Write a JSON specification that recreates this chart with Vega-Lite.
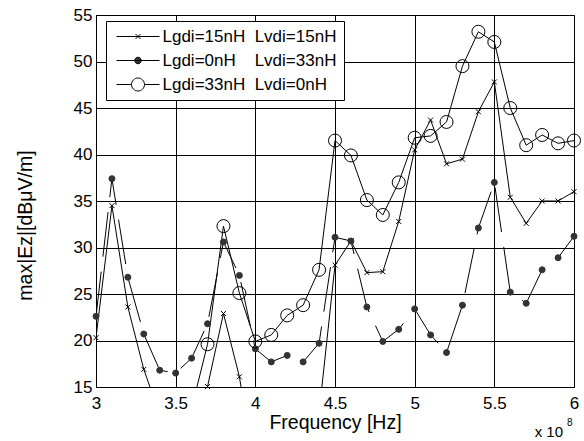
{
 "$schema": "https://vega.github.io/schema/vega-lite/v6.json",
 "width": 478, "height": 372,
 "autosize": {"type": "none"},
 "padding": {"left": 96, "top": 15, "right": 10, "bottom": 54},
 "background": "white",
 "config": {
  "font": "Liberation Sans",
  "view": {"stroke": "black", "strokeWidth": 1},
  "axis": {"labelFont": "Liberation Sans", "labelFontSize": 17, "labelColor": "black", "titleFont": "Liberation Sans", "titleFontSize": 19.5, "titleFontWeight": "normal", "titleColor": "black", "gridColor": "black", "gridOpacity": 1, "gridWidth": 1, "domain": false, "ticks": false, "labelOverlap": false},
  "legend": {"orient": "none", "legendX": 10, "legendY": 6, "strokeColor": "black", "fillColor": "white", "padding": 7, "cornerRadius": 0,
        "labelFont": "Liberation Sans", "labelFontSize": 17, "labelColor": "black", "labelOffset": 16, "symbolOffset": 16.5, "labelLimit": 400, "symbolSize": 100, "rowPadding": 6,
        "symbolStrokeColor": "black", "symbolStrokeWidth": 1, "symbolOpacity": 1}
 },
 "data": {"values": [
  {"s":"Lgdi=15nH Lvdi=15nH","f":3.0,"v":20.3},{"s":"Lgdi=15nH Lvdi=15nH","f":3.1,"v":34.5},{"s":"Lgdi=15nH Lvdi=15nH","f":3.2,"v":23.6},{"s":"Lgdi=15nH Lvdi=15nH","f":3.3,"v":16.9},{"s":"Lgdi=15nH Lvdi=15nH","f":3.4,"v":12.0},{"s":"Lgdi=15nH Lvdi=15nH","f":3.5,"v":10.5},{"s":"Lgdi=15nH Lvdi=15nH","f":3.6,"v":11.5},{"s":"Lgdi=15nH Lvdi=15nH","f":3.7,"v":15.05},{"s":"Lgdi=15nH Lvdi=15nH","f":3.8,"v":22.9},{"s":"Lgdi=15nH Lvdi=15nH","f":3.9,"v":16.1},{"s":"Lgdi=15nH Lvdi=15nH","f":4.0,"v":5.5},{"s":"Lgdi=15nH Lvdi=15nH","f":4.1,"v":6.0},{"s":"Lgdi=15nH Lvdi=15nH","f":4.2,"v":7.0},{"s":"Lgdi=15nH Lvdi=15nH","f":4.3,"v":9.0},{"s":"Lgdi=15nH Lvdi=15nH","f":4.4,"v":12.2},{"s":"Lgdi=15nH Lvdi=15nH","f":4.5,"v":28.1},{"s":"Lgdi=15nH Lvdi=15nH","f":4.6,"v":30.7},{"s":"Lgdi=15nH Lvdi=15nH","f":4.7,"v":27.3},{"s":"Lgdi=15nH Lvdi=15nH","f":4.8,"v":27.4},{"s":"Lgdi=15nH Lvdi=15nH","f":4.9,"v":32.8},{"s":"Lgdi=15nH Lvdi=15nH","f":5.0,"v":40.5},{"s":"Lgdi=15nH Lvdi=15nH","f":5.1,"v":43.7},{"s":"Lgdi=15nH Lvdi=15nH","f":5.2,"v":39.0},{"s":"Lgdi=15nH Lvdi=15nH","f":5.3,"v":39.5},{"s":"Lgdi=15nH Lvdi=15nH","f":5.4,"v":44.6},{"s":"Lgdi=15nH Lvdi=15nH","f":5.5,"v":47.8},{"s":"Lgdi=15nH Lvdi=15nH","f":5.6,"v":35.4},{"s":"Lgdi=15nH Lvdi=15nH","f":5.7,"v":32.6},{"s":"Lgdi=15nH Lvdi=15nH","f":5.8,"v":35.0},{"s":"Lgdi=15nH Lvdi=15nH","f":5.9,"v":35.0},{"s":"Lgdi=15nH Lvdi=15nH","f":6.0,"v":36.0},
  {"s":"Lgdi=0nH Lvdi=33nH","f":3.0,"v":22.6},{"s":"Lgdi=0nH Lvdi=33nH","f":3.1,"v":37.4},{"s":"Lgdi=0nH Lvdi=33nH","f":3.2,"v":26.8},{"s":"Lgdi=0nH Lvdi=33nH","f":3.3,"v":20.7},{"s":"Lgdi=0nH Lvdi=33nH","f":3.4,"v":16.8},{"s":"Lgdi=0nH Lvdi=33nH","f":3.5,"v":16.5},{"s":"Lgdi=0nH Lvdi=33nH","f":3.6,"v":18.1},{"s":"Lgdi=0nH Lvdi=33nH","f":3.7,"v":21.8},{"s":"Lgdi=0nH Lvdi=33nH","f":3.8,"v":30.6},{"s":"Lgdi=0nH Lvdi=33nH","f":3.9,"v":27.0},{"s":"Lgdi=0nH Lvdi=33nH","f":4.0,"v":19.1},{"s":"Lgdi=0nH Lvdi=33nH","f":4.1,"v":17.7},{"s":"Lgdi=0nH Lvdi=33nH","f":4.2,"v":18.4},{"s":"Lgdi=0nH Lvdi=33nH","f":4.3,"v":17.7},{"s":"Lgdi=0nH Lvdi=33nH","f":4.4,"v":19.7},{"s":"Lgdi=0nH Lvdi=33nH","f":4.5,"v":31.1},{"s":"Lgdi=0nH Lvdi=33nH","f":4.6,"v":30.7},{"s":"Lgdi=0nH Lvdi=33nH","f":4.7,"v":23.6},{"s":"Lgdi=0nH Lvdi=33nH","f":4.8,"v":19.9},{"s":"Lgdi=0nH Lvdi=33nH","f":4.9,"v":21.2},{"s":"Lgdi=0nH Lvdi=33nH","f":5.0,"v":23.4},{"s":"Lgdi=0nH Lvdi=33nH","f":5.1,"v":20.6},{"s":"Lgdi=0nH Lvdi=33nH","f":5.2,"v":18.7},{"s":"Lgdi=0nH Lvdi=33nH","f":5.3,"v":23.8},{"s":"Lgdi=0nH Lvdi=33nH","f":5.4,"v":32.1},{"s":"Lgdi=0nH Lvdi=33nH","f":5.5,"v":37.0},{"s":"Lgdi=0nH Lvdi=33nH","f":5.6,"v":25.2},{"s":"Lgdi=0nH Lvdi=33nH","f":5.7,"v":24.0},{"s":"Lgdi=0nH Lvdi=33nH","f":5.8,"v":27.6},{"s":"Lgdi=0nH Lvdi=33nH","f":5.9,"v":28.9},{"s":"Lgdi=0nH Lvdi=33nH","f":6.0,"v":31.2},
  {"s":"Lgdi=33nH Lvdi=0nH","f":3.0,"v":11.0},{"s":"Lgdi=33nH Lvdi=0nH","f":3.1,"v":13.0},{"s":"Lgdi=33nH Lvdi=0nH","f":3.2,"v":12.0},{"s":"Lgdi=33nH Lvdi=0nH","f":3.3,"v":10.0},{"s":"Lgdi=33nH Lvdi=0nH","f":3.4,"v":9.0},{"s":"Lgdi=33nH Lvdi=0nH","f":3.5,"v":10.0},{"s":"Lgdi=33nH Lvdi=0nH","f":3.6,"v":12.7},{"s":"Lgdi=33nH Lvdi=0nH","f":3.7,"v":19.6},{"s":"Lgdi=33nH Lvdi=0nH","f":3.8,"v":32.3},{"s":"Lgdi=33nH Lvdi=0nH","f":3.9,"v":25.1},{"s":"Lgdi=33nH Lvdi=0nH","f":4.0,"v":19.9},{"s":"Lgdi=33nH Lvdi=0nH","f":4.1,"v":20.6},{"s":"Lgdi=33nH Lvdi=0nH","f":4.2,"v":22.7},{"s":"Lgdi=33nH Lvdi=0nH","f":4.3,"v":23.8},{"s":"Lgdi=33nH Lvdi=0nH","f":4.4,"v":27.6},{"s":"Lgdi=33nH Lvdi=0nH","f":4.5,"v":41.5},{"s":"Lgdi=33nH Lvdi=0nH","f":4.6,"v":39.9},{"s":"Lgdi=33nH Lvdi=0nH","f":4.7,"v":35.1},{"s":"Lgdi=33nH Lvdi=0nH","f":4.8,"v":33.5},{"s":"Lgdi=33nH Lvdi=0nH","f":4.9,"v":37.0},{"s":"Lgdi=33nH Lvdi=0nH","f":5.0,"v":41.8},{"s":"Lgdi=33nH Lvdi=0nH","f":5.1,"v":42.0},{"s":"Lgdi=33nH Lvdi=0nH","f":5.2,"v":43.5},{"s":"Lgdi=33nH Lvdi=0nH","f":5.3,"v":49.5},{"s":"Lgdi=33nH Lvdi=0nH","f":5.4,"v":53.2},{"s":"Lgdi=33nH Lvdi=0nH","f":5.5,"v":52.1},{"s":"Lgdi=33nH Lvdi=0nH","f":5.6,"v":45.0},{"s":"Lgdi=33nH Lvdi=0nH","f":5.7,"v":41.0},{"s":"Lgdi=33nH Lvdi=0nH","f":5.8,"v":42.1},{"s":"Lgdi=33nH Lvdi=0nH","f":5.9,"v":41.2},{"s":"Lgdi=33nH Lvdi=0nH","f":6.0,"v":41.5}
 ]},
 "layer": [
  {
   "transform": [{"filter": "datum.s !== 'Lgdi=0nH Lvdi=33nH'"}],
   "mark": {"type": "line", "clip": true, "color": "black", "strokeWidth": 1},
   "encoding": {
    "x": {"field": "f", "type": "quantitative", "scale": {"domain": [3, 6], "nice": false, "zero": false},
          "axis": {"values": [3, 3.5, 4, 4.5, 5, 5.5, 6], "format": "~g", "title": "Frequency [Hz]", "labelPadding": 8, "titlePadding": 2, "labelFlush": false}},
    "y": {"field": "v", "type": "quantitative", "scale": {"domain": [15, 55], "nice": false, "zero": false},
          "axis": {"values": [15, 20, 25, 30, 35, 40, 45, 50, 55], "title": "max|Ez|[dBμV/m]", "labelPadding": 4, "titlePadding": 38, "titleY": 210}},
    "detail": {"field": "s", "type": "nominal"}
   }
  },
  {
   "transform": [{"filter": "datum.s === 'Lgdi=0nH Lvdi=33nH'"}],
   "mark": {"type": "line", "clip": true, "color": "black", "strokeWidth": 1, "strokeDash": [45, 15]},
   "encoding": {"x": {"field": "f", "type": "quantitative"}, "y": {"field": "v", "type": "quantitative"}}
  },
  {
   "transform": [{"filter": "datum.s === 'Lgdi=15nH Lvdi=15nH' && datum.v >= 15"}],
   "mark": {"type": "point", "shape": "M-1,-1L1,1M-1,1L1,-1", "size": 25, "opacity": 1, "stroke": "black", "strokeWidth": 1, "filled": false, "clip": false},
   "encoding": {"x": {"field": "f", "type": "quantitative"}, "y": {"field": "v", "type": "quantitative"}}
  },
  {
   "transform": [{"filter": "datum.s === 'Lgdi=0nH Lvdi=33nH' && datum.v >= 15"}],
   "mark": {"type": "point", "shape": "circle", "size": 36, "opacity": 1, "fill": "#333333", "fillOpacity": 1, "stroke": "#333333", "strokeWidth": 1, "filled": true, "clip": false},
   "encoding": {"x": {"field": "f", "type": "quantitative"}, "y": {"field": "v", "type": "quantitative"}}
  },
  {
   "transform": [{"filter": "datum.s === 'Lgdi=33nH Lvdi=0nH' && datum.v >= 15"}],
   "mark": {"type": "point", "shape": "circle", "size": 169, "opacity": 1, "stroke": "black", "strokeWidth": 1, "filled": false, "clip": false},
   "encoding": {"x": {"field": "f", "type": "quantitative"}, "y": {"field": "v", "type": "quantitative"}}
  },
  {
   "transform": [{"filter": "false"}],
   "mark": {"type": "point", "opacity": 1, "strokeWidth": 1},
   "encoding": {
    "x": {"field": "f", "type": "quantitative"},
    "y": {"field": "v", "type": "quantitative"},
    "shape": {"field": "s", "type": "nominal",
      "scale": {"domain": ["Lgdi=15nH Lvdi=15nH", "Lgdi=0nH Lvdi=33nH", "Lgdi=33nH Lvdi=0nH"],
                "range": ["M-4.3,0H4.3M-0.5,-0.5L0.5,0.5M-0.5,0.5L0.5,-0.5", "M-4.3,0H4.3M0.65,0A0.65,0.65,0,1,1,-0.65,0A0.65,0.65,0,1,1,0.65,0Z", "M-4.3,0H-1.3M1.3,0H4.3M1.3,0A1.3,1.3,0,1,1,-1.3,0A1.3,1.3,0,1,1,1.3,0Z"]},
      "legend": {"orient": "none", "legendX": 10, "legendY": 6, "title": null,
        "labelExpr": "datum.label === 'Lgdi=0nH Lvdi=33nH' ? 'Lgdi=0nH\u2007\u00a0\u00a0Lvdi=33nH' : replace(datum.label, ' ', '\u00a0\u00a0')"}},
    "fill": {"field": "s", "type": "nominal",
      "scale": {"domain": ["Lgdi=15nH Lvdi=15nH", "Lgdi=0nH Lvdi=33nH", "Lgdi=33nH Lvdi=0nH"], "range": ["transparent", "#333333", "transparent"]},
      "legend": {"orient": "none", "legendX": 10, "legendY": 6, "title": null,
        "labelExpr": "datum.label === 'Lgdi=0nH Lvdi=33nH' ? 'Lgdi=0nH\u2007\u00a0\u00a0Lvdi=33nH' : replace(datum.label, ' ', '\u00a0\u00a0')"}},
    "stroke": {"field": "s", "type": "nominal",
      "scale": {"domain": ["Lgdi=15nH Lvdi=15nH", "Lgdi=0nH Lvdi=33nH", "Lgdi=33nH Lvdi=0nH"], "range": ["black", "black", "black"]},
      "legend": {"orient": "none", "legendX": 10, "legendY": 6, "title": null,
        "labelExpr": "datum.label === 'Lgdi=0nH Lvdi=33nH' ? 'Lgdi=0nH\u2007\u00a0\u00a0Lvdi=33nH' : replace(datum.label, ' ', '\u00a0\u00a0')"}}
   }
  },
  {
   "data": {"values": [{"f": 6, "v": 15}]},
   "mark": {"type": "text", "text": "x 10", "align": "right", "baseline": "alphabetic", "dx": -11, "dy": 50, "fontSize": 15, "font": "Liberation Sans", "color": "black"},
   "encoding": {"x": {"field": "f", "type": "quantitative"}, "y": {"field": "v", "type": "quantitative"}}
  },
  {
   "data": {"values": [{"f": 6, "v": 15}]},
   "mark": {"type": "text", "text": "8", "align": "left", "baseline": "alphabetic", "dx": -7, "dy": 39, "fontSize": 10, "font": "Liberation Sans", "color": "black"},
   "encoding": {"x": {"field": "f", "type": "quantitative"}, "y": {"field": "v", "type": "quantitative"}}
  }
 ]
}
